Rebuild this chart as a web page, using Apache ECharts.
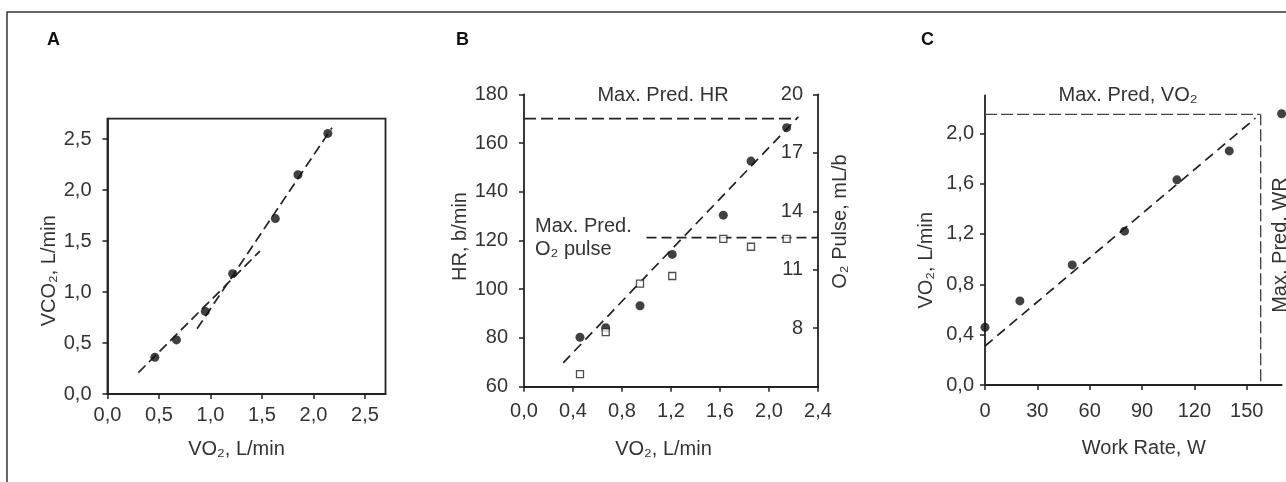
<!DOCTYPE html>
<html>
<head>
<meta charset="utf-8">
<script src="https://cdn.jsdelivr.net/npm/echarts@6/dist/echarts.min.js"></script>
<style>
html,body{margin:0;padding:0;background:#fff;}
#chart{width:1286px;height:482px;}
</style>
</head>
<body>
<div id="chart"></div>
<script>
// ---- Panel A: VCO2 vs VO2 ----
const a_vo2 = [0.46, 0.67, 0.95, 1.215, 1.63, 1.85, 2.14];
const a_vco2 = [0.36, 0.53, 0.81, 1.18, 1.72, 2.15, 2.555];
const a_lowerFit = [[0.30, 0.21], [1.48, 1.40]];
const a_upperFit = [[0.87, 0.64], [2.18, 2.61]];
const a_ticks = [0, 0.5, 1.0, 1.5, 2.0, 2.5];

// ---- Panel B: HR and O2 pulse vs VO2 ----
const b_vo2 = [0.457, 0.667, 0.947, 1.21, 1.627, 1.853, 2.144];
const b_hr = [80.3, 84.2, 93.2, 114.3, 130.4, 152.6, 166.3];
const b_o2pulse = [5.64, 7.8, 10.29, 10.68, 12.58, 12.18, 12.58];
const b_hrFit = [[0.32, 69.8], [2.24, 170.8]];
const b_maxHR = [[0, 170], [2.23, 170]];
const b_maxO2p = [[1.0, 12.65], [2.4, 12.65]];
const b_xTicks = [0, 0.4, 0.8, 1.2, 1.6, 2.0, 2.4];
const b_hrTicks = [60, 80, 100, 120, 140, 160, 180];
const b_o2Ticks = [8, 11, 14, 17, 20];

// ---- Panel C: VO2 vs Work rate ----
const c_wr = [0, 20, 50, 80, 110, 140, 170];
const c_vo2 = [0.459, 0.668, 0.954, 1.222, 1.63, 1.86, 2.155];
const c_fit = [[0, 0.31], [155, 2.12]];
const c_maxVO2 = [[0, 2.15], [158, 2.15]];
const c_maxWR = [[158, 0.03], [158, 2.15]];
const c_xTicks = [0, 30, 60, 90, 120, 150];
const c_yTicks = [0, 0.4, 0.8, 1.2, 1.6, 2.0];

const zip = (xs, ys) => xs.map((x, i) => [x, ys[i]]);
const fmt1 = v => Number(v).toFixed(1).replace('.', ',');
const fmt0 = v => String(Math.round(v));

const INK = '#222';
const TXT = '#333';
const FONT = 'Liberation Sans, Arial, sans-serif';
const LBL = 20;

function axis(opts) {
  return {
    type: 'value',
    gridIndex: opts.grid,
    min: opts.min, max: opts.max,
    position: opts.position,
    splitLine: {show: false},
    axisLine: {show: true, onZero: false, lineStyle: {color: INK, width: 1.8}},
    axisTick: {show: true, inside: !!opts.inside, length: 5, customValues: opts.ticks, lineStyle: {color: INK, width: 1.5}},
    axisLabel: {show: true, inside: !!opts.inside, customValues: opts.ticks, formatter: opts.fmt, color: TXT, fontSize: LBL, fontFamily: FONT, margin: opts.margin},
    name: opts.name,
    nameLocation: 'middle',
    nameGap: opts.nameGap,
    nameRotate: opts.nameRotate,
    nameTextStyle: {color: TXT, fontSize: 20, fontFamily: FONT, padding: opts.namePad || 0}
  };
}

const dotStyle = {color: '#111'};
function lineSeries(data, x, y, dash, width, color) {
  return {
    type: 'line', xAxisIndex: x, yAxisIndex: y, data: data,
    symbol: 'none', silent: true, z: 1,
    lineStyle: {color: color || INK, width: width || 1.8, type: dash}
  };
}

const option = {
  animation: false,
  backgroundColor: '#fff',
  textStyle: {fontFamily: FONT},
  grid: [
    {left: 107.5, top: 118.6, width: 278, height: 275.4, show: true, borderColor: INK, borderWidth: 1.8, backgroundColor: 'transparent', outerBoundsMode: 'none'},
    {left: 524, top: 94.3, width: 294, height: 292.4, outerBoundsMode: 'none'},
    {left: 985, top: 95.5, width: 296.6, height: 289.5, outerBoundsMode: 'none'}
  ],
  xAxis: [
    axis({grid: 0, min: 0, max: 2.7, ticks: a_ticks, fmt: fmt1, margin: 11, name: 'VO₂, L/min', nameGap: 45, namePad: [0, 20, 0, 0]}),
    axis({grid: 1, min: 0, max: 2.4, ticks: b_xTicks, fmt: fmt1, margin: 15, name: 'VO₂, L/min', nameGap: 53, namePad: [0, 15, 0, 0]}),
    axis({grid: 2, min: 0, max: 170, ticks: c_xTicks, fmt: fmt0, margin: 16, name: 'Work Rate, W', nameGap: 53, namePad: [0, 0, 0, 21]})
  ],
  yAxis: [
    axis({grid: 0, min: 0, max: 2.7, ticks: a_ticks, fmt: fmt1, margin: 16, name: 'VCO₂, L/min', nameGap: 48, nameRotate: 90, namePad: [0, 29, 0, 0]}),
    axis({grid: 1, min: 60, max: 180, ticks: b_hrTicks, fmt: fmt0, margin: 16, name: 'HR, b/min', nameGap: 53, nameRotate: 90, namePad: [0, 0, 0, 8]}),
    axis({grid: 1, min: 5, max: 20, ticks: b_o2Ticks, fmt: fmt0, margin: 15, inside: true, position: 'right', name: 'O₂ Pulse, mL/b', nameGap: 12, nameRotate: 90, namePad: [0, 0, 0, 38]}),
    axis({grid: 2, min: 0, max: 2.3, ticks: c_yTicks, fmt: fmt1, margin: 11, name: 'VO₂, L/min', nameGap: 49, nameRotate: 90, namePad: [0, 40, 0, 0]})
  ],
  series: [
    // Panel A
    lineSeries(a_lowerFit, 0, 0, [10, 5], 1.7),
    lineSeries(a_upperFit, 0, 0, [10, 5], 1.7),
    {type: 'scatter', xAxisIndex: 0, yAxisIndex: 0, data: zip(a_vo2, a_vco2), symbol: 'circle', symbolSize: 9, itemStyle: dotStyle, z: 3},
    // Panel B
    lineSeries(b_maxHR, 1, 1, [12, 5], 1.8),
    lineSeries(b_hrFit, 1, 1, [10, 6], 1.7),
    lineSeries(b_maxO2p, 1, 2, [10, 5], 1.8),
    {type: 'scatter', xAxisIndex: 1, yAxisIndex: 1, data: zip(b_vo2, b_hr), symbol: 'circle', symbolSize: 9, itemStyle: dotStyle, z: 3},
    {type: 'scatter', xAxisIndex: 1, yAxisIndex: 2, data: zip(b_vo2, b_o2pulse), symbol: 'rect', symbolSize: 7, itemStyle: {color: '#fff', borderColor: INK, borderWidth: 1.3}, z: 4},
    // Panel C
    lineSeries(c_maxVO2, 2, 3, [12, 4], 1.4, '#444'),
    lineSeries(c_maxWR, 2, 3, [12, 4], 1.4, '#444'),
    lineSeries(c_fit, 2, 3, [10, 6], 1.7),
    {type: 'scatter', xAxisIndex: 2, yAxisIndex: 3, data: zip(c_wr, c_vo2), symbol: 'circle', symbolSize: 9, itemStyle: dotStyle, z: 3, clip: false}
  ],
  graphic: [
    {type: 'rect', shape: {x: 7, y: 12, width: 1300, height: 500}, style: {fill: 'none', stroke: '#333', lineWidth: 1.5}, silent: true},
    {type: 'text', left: 47, top: 31, style: {text: 'A', font: 'bold 18px ' + FONT, fill: '#111'}},
    {type: 'text', left: 456, top: 31, style: {text: 'B', font: 'bold 18px ' + FONT, fill: '#111'}},
    {type: 'text', left: 921, top: 31, style: {text: 'C', font: 'bold 18px ' + FONT, fill: '#111'}},
    {type: 'text', x: 663, y: 95, style: {text: 'Max. Pred. HR', font: '20px ' + FONT, fill: TXT, align: 'center', verticalAlign: 'middle'}},
    {type: 'text', x: 535, y: 226, style: {text: 'Max. Pred.', font: '20px ' + FONT, fill: TXT, align: 'left', verticalAlign: 'middle'}},
    {type: 'text', x: 535, y: 249, style: {text: 'O₂ pulse', font: '20px ' + FONT, fill: TXT, align: 'left', verticalAlign: 'middle'}},
    {type: 'text', x: 1128, y: 95, style: {text: 'Max. Pred, VO₂', font: '20px ' + FONT, fill: TXT, align: 'center', verticalAlign: 'middle'}},
    {type: 'text', x: 1280, y: 245, rotation: Math.PI / 2, style: {text: 'Max. Pred. WR', font: '20px ' + FONT, fill: TXT, align: 'center', verticalAlign: 'middle'}}
  ]
};

const chart = echarts.init(document.getElementById('chart'), null, {renderer: 'canvas'});
chart.setOption(option);
</script>
</body>
</html>
